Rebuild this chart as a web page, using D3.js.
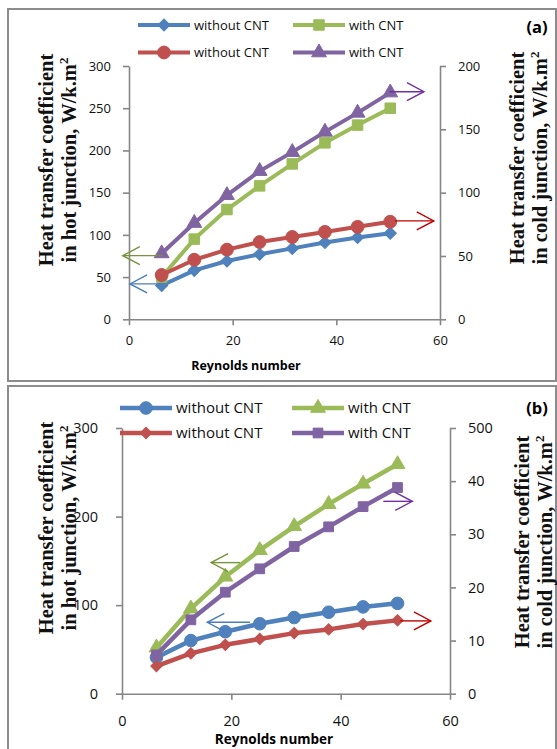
<!DOCTYPE html>
<html>
<head>
<meta charset="utf-8">
<script src="https://cdn.jsdelivr.net/npm/d3@7"></script>
<style>
body{margin:0;background:#fff}
text{font-family:"Open Sans",sans-serif}
</style>
</head>
<body>
<svg id="chart" width="557" height="749"></svg>
<script>
// Reynolds numbers shared by both panels
const reynolds=[6.3,12.6,18.9,25.2,31.5,37.8,44.1,50.4];
const xTicks=[0,20,40,60];

// panel (a)
const aBlueHot=[40,58,69,77,84,91,97,102];
const aGreenHot=[50,95,130,158,184,209,230,250];
const aRedCold=[35,47,55,61,65,69,73,77];
const aPurpleCold=[52,76,98,117,132,148,163,179];
const aHotTicks=[0,50,100,150,200,250,300];
const aColdTicks=[0,50,100,150,200];
const aColdLabels=["0","50","100","150","200"];

// panel (b)
const bBlueHot=[41,60,70,79,86,92,98,102];
const bGreenHot=[52,96,132,162,189,214,237,259];
const bRedCold=[5.2,7.6,9.2,10.3,11.4,12.1,13.1,13.8];
const bPurpleCold=[7.3,13.9,19.1,23.5,27.7,31.4,35.2,38.8];
const bHotTicks=[0,100,200,300];
const bColdTicks=[0,10,20,30,40,50];
const bColdLabels=["0","10","20","30","40","500"];

const legendLabels=["without CNT","with CNT","without CNT","with CNT"];

const blue="#4F81BD", red="#C0504D", green="#9BBB59", purple="#8064A2";
const axisGrey="#868686";

const svg=d3.select("#chart");

const panels=[
  {
    tag:"(a)", box:[8,9,548,372], x0:129, x1:440, yTop:66, yBot:319.3,
    hotMax:300, coldMax:200, hotTicks:aHotTicks, coldTicks:aColdTicks, coldLabels:aColdLabels,
    tickFont:13, legendFont:13, xTitleFont:12.5, lineW:4,
    legendRows:[25,52.5], legendCols:[138,293], tagPos:[537,33],
    xLabelY:345, xTitleY:370, xTitleX:246, leftPad:12,
    leftTitle:{x:[53,76], y:160}, rightTitle:{x:[524,547], y:158},
    series:[
      {values:aBlueHot, axis:"hot", color:blue, sym:"diamond", size:75},
      {values:aGreenHot, axis:"hot", color:green, sym:"square", size:110},
      {values:aRedCold, axis:"cold", color:red, sym:"circle", size:130},
      {values:aPurpleCold, axis:"cold", color:purple, sym:"triangle", size:95}
    ],
    arrows:[
      {axis:"hot", from:[6.4,75.4], to:[-1.2,75.4], color:"#77933C"},
      {axis:"hot", from:[6.4,41.9], to:[0.2,41.9], color:"#4A7EBB"},
      {axis:"cold", from:[50.3,179.7], to:[56.9,179.7], color:"#7030A0"},
      {axis:"cold", from:[51.3,77.7], to:[58.8,77.7], color:"#C00000"}
    ]
  },
  {
    tag:"(b)", box:[8,386,548,370], x0:122, x1:450, yTop:428, yBot:693.7,
    hotMax:300, coldMax:50, hotTicks:bHotTicks, coldTicks:bColdTicks, coldLabels:bColdLabels,
    tickFont:14.5, legendFont:15, xTitleFont:13.5, lineW:4.5,
    legendRows:[408,433], legendCols:[120,292], tagPos:[537,414],
    xLabelY:726, xTitleY:744, xTitleX:274, leftPad:18,
    leftTitle:{x:[53,76], y:528}, rightTitle:{x:[529,552], y:542},
    series:[
      {values:bBlueHot, axis:"hot", color:blue, sym:"circle", size:125},
      {values:bGreenHot, axis:"hot", color:green, sym:"triangle", size:95},
      {values:bRedCold, axis:"cold", color:red, sym:"diamond", size:65},
      {values:bPurpleCold, axis:"cold", color:purple, sym:"square", size:95}
    ],
    arrows:[
      {axis:"hot", from:[21.6,148], to:[16.3,148], color:"#77933C"},
      {axis:"hot", from:[23.4,80.6], to:[15.6,80.6], color:"#4A7EBB"},
      {axis:"cold", from:[47.8,36.2], to:[53.1,36.2], color:"#7030A0"},
      {axis:"cold", from:[50.9,13.7], to:[56.5,13.7], color:"#C00000"}
    ]
  }
];

function symbolPath(sym,size){
  const type={diamond:d3.symbolSquare, square:d3.symbolSquare, circle:d3.symbolCircle, triangle:d3.symbolTriangle}[sym];
  return d3.symbol(type,size)();
}

function styleAxis(g,font){
  g.select(".domain").attr("stroke",axisGrey).attr("stroke-width",1.6);
  g.selectAll(".tick line").attr("stroke",axisGrey).attr("stroke-width",1.6);
  g.selectAll(".tick text").attr("fill","#111").attr("font-size",font)
    .attr("font-family","'Open Sans',sans-serif");
}

function drawPanel(p){
  const g=svg.append("g");
  g.append("rect").attr("x",p.box[0]).attr("y",p.box[1])
    .attr("width",p.box[2]).attr("height",p.box[3])
    .attr("fill","none").attr("stroke","#8c8c8c").attr("stroke-width",2);

  const x=d3.scaleLinear().domain([0,60]).range([p.x0,p.x1]);
  const yHot=d3.scaleLinear().domain([0,p.hotMax]).range([p.yBot,p.yTop]);
  const yCold=d3.scaleLinear().domain([0,p.coldMax]).range([p.yBot,p.yTop]);
  const yOf={hot:yHot, cold:yCold};

  const xAxis=g.append("g").attr("transform",`translate(0,${p.yBot})`)
    .call(d3.axisBottom(x).tickValues(xTicks).tickSize(6).tickSizeOuter(0).tickPadding(8));
  styleAxis(xAxis,p.tickFont);
  xAxis.selectAll(".tick text").attr("y",null).attr("dy",null)
    .attr("transform",`translate(0,${p.xLabelY-p.yBot})`);

  const leftAxis=g.append("g").attr("transform",`translate(${p.x0},0)`)
    .call(d3.axisLeft(yHot).tickValues(p.hotTicks).tickSize(6).tickSizeOuter(0).tickPadding(p.leftPad));
  styleAxis(leftAxis,p.tickFont);

  const rightAxis=g.append("g").attr("transform",`translate(${p.x1},0)`)
    .call(d3.axisRight(yCold).tickValues(p.coldTicks).tickSize(6).tickSizeOuter(0).tickPadding(12)
      .tickFormat((d,i)=>p.coldLabels[i]));
  styleAxis(rightAxis,p.tickFont);

  // series lines and markers
  p.series.forEach(s=>{
    const yS=yOf[s.axis];
    const line=d3.line().x((d,i)=>x(reynolds[i])).y(d=>yS(d));
    g.append("path").datum(s.values).attr("d",line)
      .attr("fill","none").attr("stroke",s.color).attr("stroke-width",p.lineW)
      .attr("stroke-linejoin","round");
    g.selectAll(null).data(s.values).join("path")
      .attr("d",symbolPath(s.sym,s.size))
      .attr("transform",(d,i)=>`translate(${x(reynolds[i])},${yS(d)})${s.sym==="diamond"?" rotate(45)":""}`)
      .attr("fill",s.color).attr("stroke",s.color).attr("stroke-width",1);
  });

  // annotation arrows
  p.arrows.forEach(a=>{
    const yA=yOf[a.axis];
    const x1=x(a.from[0]), y1=yA(a.from[1]), x2=x(a.to[0]), y2=yA(a.to[1]);
    const dir=Math.sign(x2-x1);
    g.append("line").attr("x1",x1).attr("y1",y1).attr("x2",x2).attr("y2",y2)
      .attr("stroke",a.color).attr("stroke-width",1.4);
    g.append("path")
      .attr("d",`M${x2-dir*17},${y1-9}L${x2},${y2}L${x2-dir*17},${y1+9}`)
      .attr("fill","none").attr("stroke",a.color).attr("stroke-width",1.4);
  });

  // legend
  p.series.forEach((s,i)=>{
    const lx=p.legendCols[i%2], ly=p.legendRows[Math.floor(i/2)];
    g.append("line").attr("x1",lx).attr("x2",lx+52).attr("y1",ly).attr("y2",ly)
      .attr("stroke",s.color).attr("stroke-width",p.lineW);
    g.append("path").attr("d",symbolPath(s.sym,s.size))
      .attr("transform",`translate(${lx+26},${ly})${s.sym==="diamond"?" rotate(45)":""}`)
      .attr("fill",s.color).attr("stroke",s.color);
    g.append("text").attr("x",lx+56).attr("y",ly).attr("dy","0.35em")
      .attr("font-size",p.legendFont).attr("fill","#111").text(legendLabels[i]);
  });

  g.append("text").attr("x",p.tagPos[0]).attr("y",p.tagPos[1])
    .attr("text-anchor","middle").attr("font-size",16.5).attr("font-weight","bold")
    .text(p.tag);

  g.append("text").attr("x",p.xTitleX).attr("y",p.xTitleY)
    .attr("text-anchor","middle").attr("font-size",p.xTitleFont).attr("font-weight","bold")
    .text("Reynolds number");

  // rotated axis titles
  const titles=[
    {t:p.leftTitle, lines:["Heat transfer coefficient","in hot junction, W/k.m"]},
    {t:p.rightTitle, lines:["Heat transfer coefficient","in cold junction, W/k.m"]}
  ];
  titles.forEach(({t,lines})=>{
    lines.forEach((ln,k)=>{
      const tx=g.append("text")
        .attr("transform",`translate(${t.x[k]},${t.y}) rotate(-90)`)
        .attr("text-anchor","middle")
        .style("font-family","'Liberation Serif',serif")
        .attr("font-size",20.5).attr("font-weight","bold").attr("fill","#111");
      tx.append("tspan").text(ln);
      if(k===1){
        tx.append("tspan").attr("dy",-8).attr("font-size",13).text("2");
      }
    });
  });
}

panels.forEach(drawPanel);
</script>
</body>
</html>
